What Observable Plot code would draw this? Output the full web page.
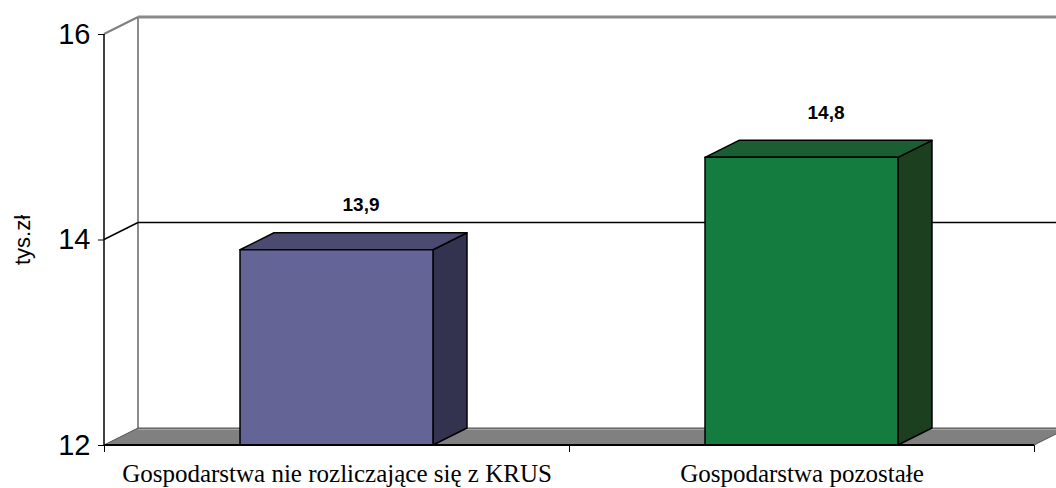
<!DOCTYPE html>
<html>
<head>
<meta charset="utf-8">
<script src="https://cdn.jsdelivr.net/npm/d3@7"></script>
<script src="https://cdn.jsdelivr.net/npm/@observablehq/plot@0.6"></script>
<style>
  html, body { margin: 0; padding: 0; background: #fff; overflow: hidden; }
</style>
</head>
<body>
<div id="chart"></div>
<script>
// ---- data ----
const categories = ["Gospodarstwa nie rozliczające się z KRUS", "Gospodarstwa pozostałe"];
const values = [13.9, 14.8];
const valueLabels = ["13,9", "14,8"];
const yTicks = [12, 14, 16];
const yTitle = "tys.zł";

// ---- styles ----
const frontColors = ["#646496", "#157c40"];
const topColors = ["#4b4b72", "#1b5e33"];
const sideColors = ["#33334f", "#1b3f1f"];
const DX = 34, DY = -17;           // 3D depth offset in px
const HALF = 0.2075;               // half bar width in category units
const yMin = 12, yMax = 16;

const bars = categories.map((c, i) => ({category: c, pos: i + 0.5, value: values[i], label: valueLabels[i], i}));

function poly(g, pts, fill, stroke, sw) {
  g.append("polygon")
    .attr("points", pts.map(p => p.join(",")).join(" "))
    .attr("fill", fill)
    .attr("stroke", stroke)
    .attr("stroke-width", sw)
    .attr("stroke-linejoin", "round");
}
function line(g, a, b, stroke, sw) {
  g.append("line").attr("x1", a[0]).attr("y1", a[1]).attr("x2", b[0]).attr("y2", b[1])
    .attr("stroke", stroke).attr("stroke-width", sw);
}

// walls + floor
const walls = (index, {x, y}) => {
  const g = d3.create("svg:g");
  const [x0, x1] = x.domain().map(x);
  line(g, [x0 + DX, y(yMax) + DY], [x0 + DX, y(yMin) + DY], "#8c8c8c", 2);
  line(g, [x0, y(yMax)], [x0 + DX, y(yMax) + DY], "#7f7f7f", 2);
  line(g, [x0 + DX, y(yMax) + DY], [x1 + DX, y(yMax) + DY], "#8a8a8a", 3);
  for (const t of yTicks.filter(t => t > yMin && t < yMax)) {
    line(g, [x0, y(t)], [x0 + DX, y(t) + DY], "#000", 1.5);
    line(g, [x0 + DX, y(t) + DY], [x1 + DX, y(t) + DY], "#000", 1.5);
  }
  poly(g, [[x0, y(yMin)], [x1, y(yMin)], [x1 + DX, y(yMin) + DY], [x0 + DX, y(yMin) + DY]], "#808080", "#555", 1);
  line(g, [x0 + DX, y(yMin) + DY + 1.5], [x1 + DX, y(yMin) + DY + 1.5], "#a6a6a6", 1);
  return g.node();
};

// bars
const bars3d = (index, {x, y}) => {
  const g = d3.create("svg:g");
  for (const b of bars) {
    const xa = x(b.pos - HALF), xb = x(b.pos + HALF);
    const yt = y(b.value), yb = y(yMin);
    poly(g, [[xb, yt], [xb + DX, yt + DY], [xb + DX, yb + DY], [xb, yb]], sideColors[b.i], "#000", 1.5);
    poly(g, [[xa, yt], [xb, yt], [xb + DX, yt + DY], [xa + DX, yt + DY]], topColors[b.i], "#000", 1.5);
    poly(g, [[xa, yt], [xb, yt], [xb, yb], [xa, yb]], frontColors[b.i], "#000", 1.5);
  }
  return g.node();
};

// front edges
const frontEdges = (index, {x, y}) => {
  const g = d3.create("svg:g");
  const [x0, x1] = x.domain().map(x);
  line(g, [x0, y(yMax)], [x0, y(yMin)], "#000", 1.5);
  line(g, [x0, y(yMin)], [x1, y(yMin)], "#000", 2);
  return g.node();
};

const chart = Plot.plot({
  width: 1056,
  height: 488,
  marginLeft: 104,
  marginRight: 22,
  marginTop: 34,
  marginBottom: 43,
  style: {background: "#fff", fontFamily: "'Liberation Sans', Arial, sans-serif", fontSize: "29px", color: "#000", overflow: "hidden"},
  x: {type: "linear", domain: [0, 2], ticks: [0, 1, 2], tickFormat: () => "", tickSize: 7, label: null, axis: "bottom"},
  y: {domain: [yMin, yMax], ticks: yTicks, tickFormat: d => String(d), tickSize: 6, tickPadding: 8, label: null},
  marks: [
    walls,
    bars3d,
    frontEdges,
    Plot.text(bars, {x: "pos", y: "value", text: "label", dx: 24, dy: -45,
      fontWeight: "bold", fontSize: 19, fontFamily: "'Liberation Sans', Arial, sans-serif", fill: "#000",
      style: "letter-spacing:1.5px"}),
    Plot.text(bars, {x: "pos", y: () => yMin, text: "category", dy: 28,
      fontSize: 25, fontFamily: "'Liberation Serif', 'Times New Roman', serif", fill: "#000",
      style: "letter-spacing:0.65px"}),
    Plot.text([14], {y: d => d, frameAnchor: "left", textAnchor: "middle", text: () => yTitle, rotate: -90, dx: -82,
      fontSize: 22, fontFamily: "'Liberation Sans', Arial, sans-serif", fill: "#000",
      style: "letter-spacing:1.5px"})
  ]
});
document.getElementById("chart").append(chart);
</script>
</body>
</html>
